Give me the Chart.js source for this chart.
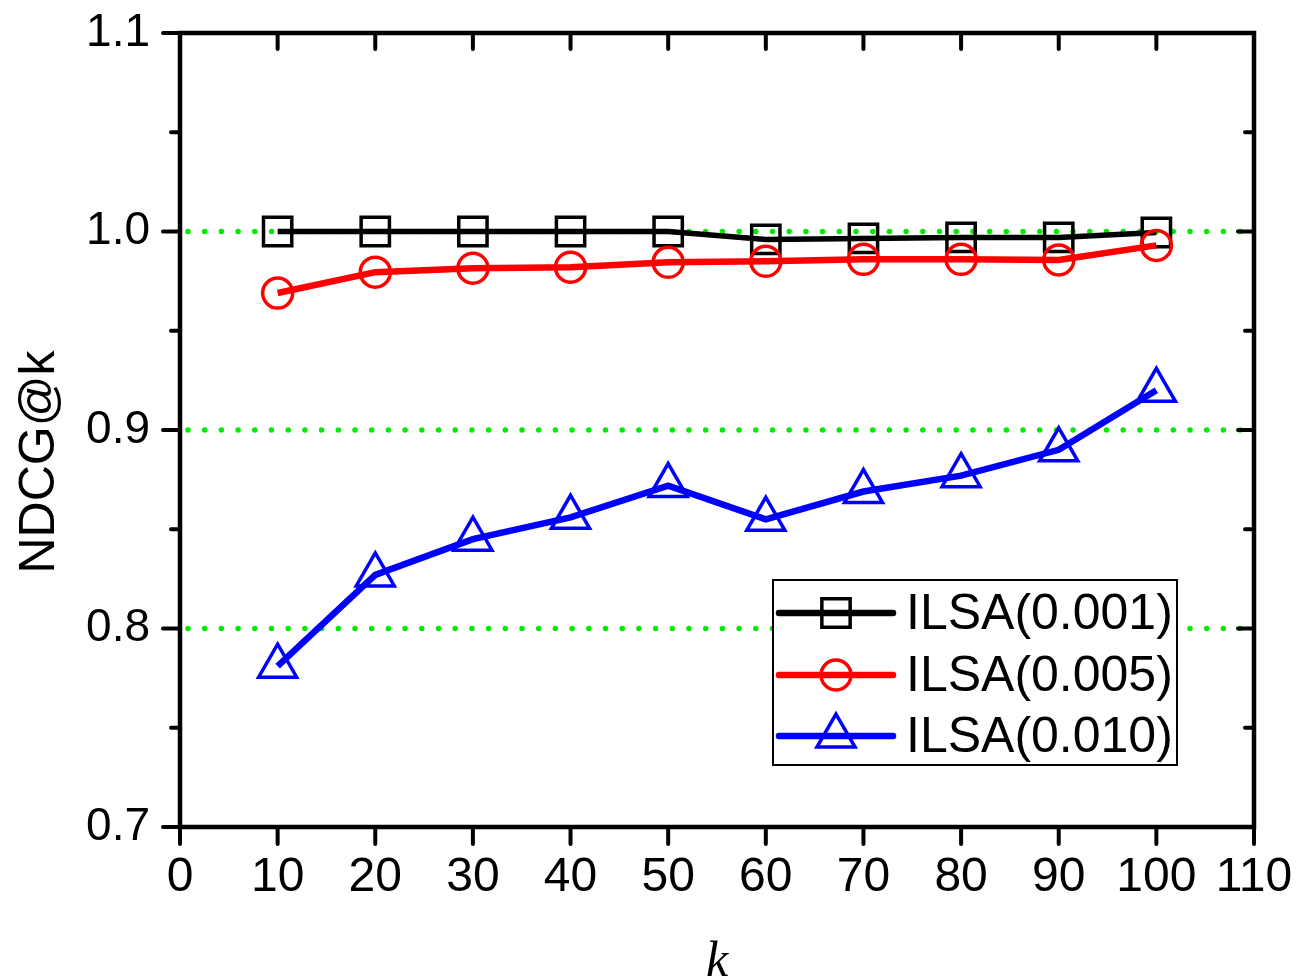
<!DOCTYPE html>
<html>
<head>
<meta charset="utf-8">
<script src="https://cdn.jsdelivr.net/npm/chart.js@4.4.0/dist/chart.umd.min.js"></script>
<style>
  body { margin: 0; background: #fff; }
  #wrap { width: 1313px; height: 977px; }
</style>
</head>
<body>
<div id="wrap"><canvas id="myChart" width="1313" height="977"></canvas></div>
<script>
// values
const ks = [10, 20, 30, 40, 50, 60, 70, 80, 90, 100];
const ilsa001 = [1.000, 1.000, 1.000, 1.000, 1.000, 0.996, 0.9965, 0.997, 0.997, 0.9995];
const ilsa005 = [0.969, 0.9795, 0.9815, 0.982, 0.9845, 0.985, 0.986, 0.986, 0.9857, 0.993];
const ilsa010 = [0.781, 0.827, 0.845, 0.856, 0.872, 0.855, 0.869, 0.877, 0.890, 0.920];
const seriesNames = ["ILSA(0.001)", "ILSA(0.005)", "ILSA(0.010)"];
const gridLines = [0.8, 0.9, 1.0];
const yMinor = [0.75, 0.85, 0.95, 1.05];

const FONT = "'Liberation Sans', Arial, sans-serif";

function pts(vals) {
    return ks.map((k, i) => ({ x: k, y: vals[i] }));
}

const frame = {
    id: 'frame',
    beforeDatasetsDraw(chart) {
        const ctx = chart.ctx;
        const a = chart.chartArea;
        const y = chart.scales.y;
        ctx.save();
        ctx.strokeStyle = 'rgb(0,235,0)';
        ctx.lineWidth = 5.5;
        ctx.lineCap = 'round';
        ctx.setLineDash([0, 16.7]);
        gridLines.forEach(v => {
            const py = y.getPixelForValue(v);
            ctx.beginPath();
            ctx.moveTo(a.left + 8, py);
            ctx.lineTo(a.right, py);
            ctx.stroke();
        });
        ctx.restore();
    },
    afterDatasetsDraw(chart) {
        const ctx = chart.ctx;
        const a = chart.chartArea;
        const x = chart.scales.x;
        const y = chart.scales.y;
        ctx.save();
        ctx.strokeStyle = '#000';
        ctx.lineCap = 'round';
        ctx.lineWidth = 4;
        // ticks
        ctx.beginPath();
        x.ticks.forEach(t => {
            const px = x.getPixelForValue(t.value);
            ctx.moveTo(px, a.bottom); ctx.lineTo(px, a.bottom + 17);
            ctx.moveTo(px, a.top); ctx.lineTo(px, a.top + 16);
        });
        y.ticks.forEach(t => {
            const py = y.getPixelForValue(t.value);
            ctx.moveTo(a.left, py); ctx.lineTo(a.left - 17, py);
            ctx.moveTo(a.right, py); ctx.lineTo(a.right - 16, py);
        });
        yMinor.forEach(v => {
            const py = y.getPixelForValue(v);
            ctx.moveTo(a.left, py); ctx.lineTo(a.left - 9, py);
            ctx.moveTo(a.right, py); ctx.lineTo(a.right - 9, py);
        });
        ctx.stroke();
        // frame
        ctx.lineWidth = 4.5;
        ctx.lineCap = 'butt';
        ctx.strokeRect(a.left, a.top, a.right - a.left, a.bottom - a.top);

        // y title
        ctx.fillStyle = '#000';
        ctx.font = '50px ' + FONT;
        ctx.textAlign = 'center';
        ctx.textBaseline = 'alphabetic';
        ctx.translate(54, 462);
        ctx.rotate(-Math.PI / 2);
        ctx.fillText('NDCG@k', 0, 0);
        ctx.restore();

        // legend
        ctx.save();
        const lx = 773, ly = 580, lw = 404, lh = 185;
        ctx.fillStyle = '#fff';
        ctx.fillRect(lx, ly, lw, lh);
        ctx.strokeStyle = '#000';
        ctx.lineWidth = 2;
        ctx.strokeRect(lx, ly, lw, lh);
        const rowsY = [613, 675, 736];
        chart.data.datasets.forEach((ds, i) => {
            const ry = rowsY[i];
            ctx.strokeStyle = ds.borderColor;
            ctx.lineWidth = 6.5;
            ctx.lineCap = 'round';
            ctx.beginPath();
            ctx.moveTo(779, ry); ctx.lineTo(893, ry);
            ctx.stroke();
            ctx.lineWidth = ds.pointBorderWidth;
            ctx.beginPath();
            const cx = 836;
            if (ds.pointStyle === 'rect') {
                const s = Math.SQRT1_2 * ds.pointRadius;
                ctx.rect(cx - s, ry - s, 2 * s, 2 * s);
            } else if (ds.pointStyle === 'circle') {
                ctx.arc(cx, ry, ds.pointRadius, 0, Math.PI * 2);
            } else {
                const r = ds.pointRadius;
                ctx.moveTo(cx, ry - r);
                ctx.lineTo(cx + r * Math.sin(Math.PI * 2 / 3), ry + r / 2);
                ctx.lineTo(cx - r * Math.sin(Math.PI * 2 / 3), ry + r / 2);
                ctx.closePath();
            }
            ctx.stroke();
            ctx.fillStyle = '#000';
            ctx.font = '50px ' + FONT;
            ctx.textAlign = 'left';
            ctx.textBaseline = 'middle';
            ctx.fillText(ds.label, 906, ry + 2);
        });
        ctx.restore();
    }
};

const ctx = document.getElementById("myChart").getContext("2d");

let chart = new Chart(ctx, {
    type: 'line',
    data: {
        datasets: [{
            label: seriesNames[0],
            data: pts(ilsa001),
            borderColor: '#000',
            borderWidth: 5.5,
            pointStyle: 'rect',
            pointRadius: 20,
            pointBorderWidth: 3.5,
            pointBackgroundColor: 'transparent',
            pointBorderColor: '#000',
            order: 1
        }, {
            label: seriesNames[1],
            data: pts(ilsa005),
            borderColor: '#ff0000',
            borderWidth: 6.5,
            pointStyle: 'circle',
            pointRadius: 15,
            pointBorderWidth: 3.5,
            pointBackgroundColor: 'transparent',
            pointBorderColor: '#ff0000',
            order: 0
        }, {
            label: seriesNames[2],
            data: pts(ilsa010),
            borderColor: '#0000ff',
            borderWidth: 6.5,
            pointStyle: 'triangle',
            pointRadius: 22,
            pointBorderWidth: 3.5,
            pointBackgroundColor: 'transparent',
            pointBorderColor: '#0000ff',
            order: 2
        }]
    },
    options: {
        responsive: false,
        animation: false,
        layout: { padding: { left: 0, top: 33, right: 59, bottom: 0 } },
        plugins: {
            legend: { display: false },
            tooltip: { enabled: false }
        },
        scales: {
            x: {
                type: 'linear',
                min: 0,
                max: 110,
                afterFit: s => { s.height = 150; s.paddingLeft = 0; s.paddingRight = 0; },
                ticks: {
                    stepSize: 10,
                    color: '#000',
                    padding: 22,
                    maxRotation: 0,
                    autoSkip: false,
                    font: { family: FONT, size: 48 }
                },
                grid: { display: false, drawTicks: false },
                border: { display: false },
                title: {
                    display: true,
                    text: 'k',
                    color: '#000',
                    padding: { top: 0, bottom: 0 },
                    font: { family: "'Liberation Serif', 'Times New Roman', serif", size: 50, style: 'italic', lineHeight: 0.56 }
                }
            },
            y: {
                min: 0.7,
                max: 1.1,
                afterFit: s => { s.width = 180; s.paddingTop = 0; s.paddingBottom = 0; },
                ticks: {
                    stepSize: 0.1,
                    color: '#000',
                    padding: 30,
                    font: { family: FONT, size: 46 },
                    callback: v => v.toFixed(1)
                },
                grid: { display: false, drawTicks: false },
                border: { display: false }
            }
        }
    },
    plugins: [frame]
});
</script>
</body>
</html>
